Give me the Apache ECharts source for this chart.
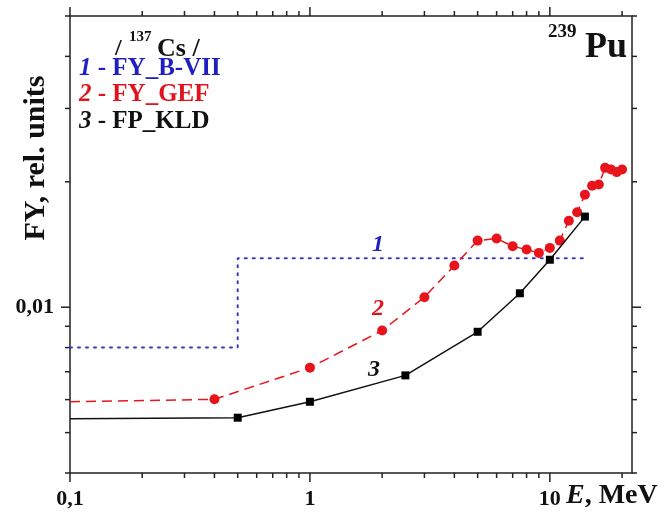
<!DOCTYPE html>
<html>
<head>
<meta charset="utf-8">
<script src="https://cdn.jsdelivr.net/npm/echarts/dist/echarts.min.js"></script>
<style>
  html, body { margin: 0; padding: 0; background: #fff; }
  #chart { width: 670px; height: 514px; }
</style>
</head>
<body>
<div id="chart"></div>
<script>
// axis ranges
var X_MIN = 0.1, X_MAX = 22;
var Y_MIN = 0.004, Y_MAX = 0.05;

// 1 - FY_B-VII (step)
var bviiE = [0.1, 0.5, 0.5, 14];
var bviiFY = [0.008, 0.008, 0.0131, 0.0131];

// 2 - FY_GEF
var gefE = [0.1, 0.4, 1, 2, 3, 4, 5, 6, 7, 8, 9, 10, 11, 12, 13, 14, 15, 16, 17, 18, 19, 20];
var gefFY = [0.00593, 0.00601, 0.00716, 0.00879, 0.01057, 0.01259, 0.01445, 0.01462, 0.0140, 0.01375, 0.0135,
             0.01388, 0.01445, 0.01613, 0.0169, 0.01863, 0.01957, 0.0197, 0.0216, 0.0214, 0.0211, 0.0214];

// 3 - FP_KLD
var kldE = [0.1, 0.5, 1, 2.5, 5, 7.5, 10, 14];
var kldFY = [0.0054, 0.00543, 0.00593, 0.00686, 0.00873, 0.0108, 0.0130, 0.0165];

// ticks and labels
var xMajorTicks = [0.1, 1, 10];
var xMinorTicks = [0.2, 0.3, 0.4, 0.5, 0.6, 0.7, 0.8, 0.9, 2, 3, 4, 5, 6, 7, 8, 9, 20];
var xLabelText = ['0,1', '1', '10'];
var yMajorTicks = [0.01];
var yMinorTicks = [0.004, 0.005, 0.006, 0.007, 0.008, 0.009, 0.02, 0.03, 0.04, 0.05];
var yLabelText = ['0,01'];

var SERIF = "'Times New Roman', 'Liberation Serif', serif";
var AXIS_COLOR = '#222';

function zip(xs, ys) {
  return xs.map(function (x, i) { return [x, ys[i]]; });
}
function findLabel(vals, texts, v) {
  for (var i = 0; i < vals.length; i++) {
    if (Math.abs(Math.log10(v) - Math.log10(vals[i])) < 1e-6) return texts[i];
  }
  return '';
}

var xTickData = xMajorTicks.map(function (v) { return [v, Y_MIN, 1]; })
  .concat(xMinorTicks.map(function (v) { return [v, Y_MIN, 0]; }));
var yTickData = yMajorTicks.map(function (v) { return [X_MIN, v, 1]; })
  .concat(yMinorTicks.map(function (v) { return [X_MIN, v, 0]; }));

function tickLine(x1, y1, x2, y2) {
  return { type: 'line', shape: { x1: x1, y1: y1, x2: x2, y2: y2 },
           style: { stroke: AXIS_COLOR, lineWidth: 1.5 } };
}

// ticks on bottom + top
function renderXTicks(params, api) {
  var v = api.value(0), len = api.value(2) ? 9 : 5;
  var b = api.coord([v, Y_MIN]), t = api.coord([v, Y_MAX]);
  return { type: 'group', children: [
    tickLine(b[0], b[1], b[0], b[1] + len),
    tickLine(t[0], t[1], t[0], t[1] - len)
  ] };
}
// ticks on left + right
function renderYTicks(params, api) {
  var v = api.value(1), len = api.value(2) ? 9 : 5;
  var l = api.coord([X_MIN, v]), r = api.coord([X_MAX, v]);
  return { type: 'group', children: [
    tickLine(l[0], l[1], l[0] - len, l[1]),
    tickLine(r[0], r[1], r[0] + len, r[1])
  ] };
}

var chart = echarts.init(document.getElementById('chart'));

var option = {
  animation: false,
  backgroundColor: '#fff',
  grid: {
    left: 70, right: 38, top: 16, bottom: 41,
    show: true, borderColor: AXIS_COLOR, borderWidth: 1.5
  },
  xAxis: {
    type: 'log', logBase: 10, min: X_MIN, max: X_MAX,
    axisLine: { show: false },
    axisTick: { show: false },
    splitLine: { show: false },
    axisLabel: {
      interval: 0, margin: 15, color: '#111',
      fontFamily: SERIF, fontWeight: 'bold', fontSize: 22,
      formatter: function (v) { return findLabel(xMajorTicks, xLabelText, v); }
    }
  },
  yAxis: {
    type: 'log', logBase: 10, min: Y_MIN, max: Y_MAX,
    axisLine: { show: false },
    axisTick: { show: false },
    splitLine: { show: false },
    axisLabel: {
      interval: 0, margin: 16, color: '#111',
      fontFamily: SERIF, fontWeight: 'bold', fontSize: 22,
      formatter: function (v) { return findLabel(yMajorTicks, yLabelText, v); }
    }
  },
  series: [
    {
      name: 'FY_B-VII', type: 'line', data: zip(bviiE, bviiFY),
      showSymbol: false, symbol: 'none',
      lineStyle: { color: '#3838c8', width: 2, type: [2, 6], cap: 'round' },
      z: 2
    },
    {
      name: 'FY_GEF', type: 'line', data: zip(gefE, gefFY),
      symbol: function (val, p) { return p.dataIndex === 0 ? 'none' : 'circle'; },
      symbolSize: 10,
      itemStyle: { color: '#e8141c', borderWidth: 0 },
      lineStyle: { color: '#e8141c', width: 1.5, type: [10, 6] },
      z: 3
    },
    {
      name: 'FP_KLD', type: 'line', data: zip(kldE, kldFY),
      symbol: function (val, p) { return p.dataIndex === 0 ? 'none' : 'rect'; },
      symbolSize: 8,
      itemStyle: { color: '#000', borderWidth: 0 },
      lineStyle: { color: '#111', width: 1.5 },
      z: 4
    },
    {
      type: 'custom', data: xTickData, renderItem: renderXTicks,
      clip: false, silent: true, encode: { x: 0, y: 1 }
    },
    {
      type: 'custom', data: yTickData, renderItem: renderYTicks,
      clip: false, silent: true, encode: { x: 0, y: 1 }
    }
  ],
  graphic: [
    // y-axis title
    { type: 'text', x: 36, y: 158, rotation: Math.PI / 2,
      style: { text: 'FY, rel. units', font: 'bold 30px ' + SERIF, fill: '#111',
               textAlign: 'center', textVerticalAlign: 'middle' } },
    // x-axis title
    { type: 'text', x: 566, y: 496,
      style: { text: '{i|E}{n|, MeV}', textVerticalAlign: 'middle', fill: '#111',
               rich: { i: { font: 'italic bold 28px ' + SERIF }, n: { font: 'bold 28px ' + SERIF } } } },
    // 239Pu
    { type: 'text', x: 548, y: 32,
      style: { text: '239', font: 'bold 19px ' + SERIF, fill: '#111', textVerticalAlign: 'middle' } },
    { type: 'text', x: 627, y: 48,
      style: { text: 'Pu', font: 'bold 36px ' + SERIF, fill: '#111', textAlign: 'right', textVerticalAlign: 'middle' } },
    // legend block
    { type: 'text', x: 115, y: 49,
      style: { text: '/', font: 'bold 24px ' + SERIF, fill: '#111', textVerticalAlign: 'middle' } },
    { type: 'text', x: 129, y: 37,
      style: { text: '137', font: 'bold 15px ' + SERIF, fill: '#111', textVerticalAlign: 'middle' } },
    { type: 'text', x: 157, y: 49,
      style: { text: 'Cs /', font: 'bold 26px ' + SERIF, fill: '#111', textVerticalAlign: 'middle' } },
    { type: 'text', x: 79, y: 69,
      style: { text: '{i|1}{n| - FY_B-VII}', fill: '#1f1fbf', textVerticalAlign: 'middle',
               rich: { i: { font: 'italic bold 25px ' + SERIF, fill: '#1f1fbf' }, n: { font: 'bold 25px ' + SERIF, fill: '#1f1fbf' } } } },
    { type: 'text', x: 79, y: 95,
      style: { text: '{i|2}{n| - FY_GEF}', fill: '#e0141c', textVerticalAlign: 'middle',
               rich: { i: { font: 'italic bold 25px ' + SERIF, fill: '#e0141c' }, n: { font: 'bold 25px ' + SERIF, fill: '#e0141c' } } } },
    { type: 'text', x: 79, y: 122,
      style: { text: '{i|3}{n| - FP_KLD}', fill: '#111', textVerticalAlign: 'middle',
               rich: { i: { font: 'italic bold 25px ' + SERIF, fill: '#111' }, n: { font: 'bold 25px ' + SERIF, fill: '#111' } } } },
    // curve numbers
    { type: 'text', x: 378, y: 245,
      style: { text: '1', font: 'italic bold 24px ' + SERIF, fill: '#1f1fbf', textAlign: 'center', textVerticalAlign: 'middle' } },
    { type: 'text', x: 378, y: 309,
      style: { text: '2', font: 'italic bold 24px ' + SERIF, fill: '#e0141c', textAlign: 'center', textVerticalAlign: 'middle' } },
    { type: 'text', x: 374, y: 370,
      style: { text: '3', font: 'italic bold 24px ' + SERIF, fill: '#111', textAlign: 'center', textVerticalAlign: 'middle' } }
  ]
};

chart.setOption(option);
</script>
</body>
</html>
